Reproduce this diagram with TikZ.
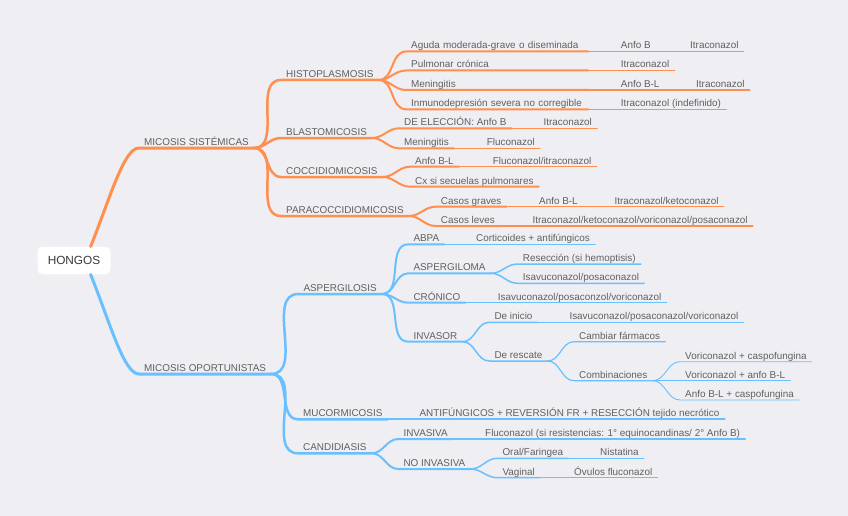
\documentclass[tikz,border=0pt]{standalone}
\usepackage{fontspec}
\setmainfont{Liberation Sans}
\definecolor{fondo}{RGB}{239, 238, 243}
\definecolor{naranja}{RGB}{255, 143, 78}
\definecolor{azul}{RGB}{104, 192, 255}
\definecolor{texto}{RGB}{96, 96, 96}
\usepackage{tikz}

\begin{document}
\begin{tikzpicture}[x=1pt, y=-1pt,
  raiz/.style={rectangle, rounded corners=5pt, fill=white,
               minimum width=73pt, minimum height=27.5pt,
               font=\fontsize{11.8}{13}\selectfont, text=black!78},
  et/.style={anchor=south west, inner xsep=5pt, inner ysep=1pt,
             text height=7pt, text depth=1.5pt,
             font=\fontsize{9.9}{11}\selectfont, text=texto},
  col/.style={text width=172pt, align=left},
  sis/.style={draw=naranja, line width=#1, line cap=round, line join=round},
  opo/.style={draw=azul, line width=#1, line cap=round, line join=round},
]
% Fondo
\fill[fondo] (0,0) rectangle (848,516);

% Raiz
\node[raiz] (hongos) at (74,260.5) {HONGOS};

% Nivel 1
\node[et] (sistem) at (139,148) {MICOSIS SISTÉMICAS};
\node[et] (oport) at (139,374) {MICOSIS OPORTUNISTAS};

% Micosis sistemicas
\node[et] (histo) at (281,80) {HISTOPLASMOSIS};
\node[et] (blasto) at (281,138) {BLASTOMICOSIS};
\node[et] (cocci) at (281,177) {COCCIDIOMICOSIS};
\node[et] (para) at (281,216) {PARACOCCIDIOMICOSIS};

\node[et,col] (aguda) at (406,51.5) {Aguda moderada-grave o diseminada};
\node[et,col] (pulmo) at (406,70.5) {Pulmonar crónica};
\node[et,col] (menh) at (406,90) {Meningitis};
\node[et,col] (inmuno) at (406,109.3) {Inmunodepresión severa no corregible};
\node[et] (anfob) at (615.7,51.5) {Anfo B};
\node[et] (itraa) at (685,51.5) {Itraconazol};
\node[et] (itrab) at (615.7,70.5) {Itraconazol};
\node[et] (anfobla) at (615.7,90) {Anfo B-L};
\node[et] (itrac) at (691,90) {Itraconazol};
\node[et] (itraind) at (615.7,109.3) {Itraconazol (indefinido)};

\node[et] (eleccion) at (399,128.3) {DE ELECCIÓN: Anfo B};
\node[et] (itrad) at (538.3,128.3) {Itraconazol};
\node[et] (menb) at (399,148.3) {Meningitis};
\node[et] (flucoa) at (481.7,148.3) {Fluconazol};

\node[et] (anfoblb) at (410,166.7) {Anfo B-L};
\node[et] (flucoitra) at (487.7,166.7) {Fluconazol/itraconazol};
\node[et] (cx) at (410,186.7) {Cx si secuelas pulmonares};

\node[et] (graves) at (435.7,206.7) {Casos graves};
\node[et] (anfoblc) at (534,206.7) {Anfo B-L};
\node[et] (itraketo) at (609.3,206.7) {Itraconazol/ketoconazol};
\node[et] (leves) at (435.7,226) {Casos leves};
\node[et] (itratodos) at (527.3,226)
  {Itraconazol/ketoconazol/voriconazol/posaconazol};

% Micosis oportunistas
\node[et] (asper) at (298.3,294) {ASPERGILOSIS};
\node[et] (mucor) at (298,419.3) {MUCORMICOSIS};
\node[et] (candi) at (298,453.3) {CANDIDIASIS};

\node[et] (abpa) at (408.3,244.3) {ABPA};
\node[et] (cortic) at (471,244.3) {Corticoides + antifúngicos};
\node[et] (aspergiloma) at (408.3,273.3) {ASPERGILOMA};
\node[et] (reseccion) at (517.7,264) {Resección (si hemoptisis)};
\node[et] (isapos) at (517.7,283.3) {Isavuconazol/posaconazol};
\node[et] (cronico) at (408.3,302.7) {CRÓNICO};
\node[et] (isavora) at (492.7,302.7) {Isavuconazol/posaconzol/voriconazol};
\node[et] (invasor) at (408.3,341.7) {INVASOR};
\node[et] (inicio) at (489.3,322.3) {De inicio};
\node[et] (isavorb) at (564.3,322.3) {Isavuconazol/posaconazol/voriconazol};
\node[et] (rescate) at (489.3,361) {De rescate};
\node[et] (cambiar) at (574,341.7) {Cambiar fármacos};
\node[et] (combi) at (574,380.7) {Combinaciones};
\node[et] (vorcas) at (680,361.7) {Voriconazol + caspofungina};
\node[et] (voranf) at (680,380.7) {Voriconazol + anfo B-L};
\node[et] (anfcas) at (680,400) {Anfo B-L + caspofungina};

\node[et] (antif) at (414.3,419.3)
  {ANTIFÚNGICOS + REVERSIÓN FR + RESECCIÓN tejido necrótico};

\node[et] (invasiva) at (398.3,439) {INVASIVA};
\node[et] (flucores) at (480,439)
  {Fluconazol (si resistencias: 1° equinocandinas/ 2° Anfo B)};
\node[et] (noinv) at (398.3,469) {NO INVASIVA};
\node[et] (oral) at (497.3,458.3) {Oral/Faringea};
\node[et] (nista) at (595,458.3) {Nistatina};
\node[et] (vaginal) at (497.3,477.7) {Vaginal};
\node[et] (ovulos) at (569,477.7) {Óvulos fluconazol};

% Ramas naranja
\draw[sis=3pt] (hongos.40) .. controls +(20,-50) and +(-15,0) .. (sistem.south west)
  -- (sistem.south east);
\foreach \h in {histo,blasto,cocci,para}
  \draw[sis=2.5pt] (sistem.south east) to[out=0,in=180] (\h.south west) -- (\h.south east);
\foreach \h in {aguda,pulmo,menh,inmuno}
  \draw[sis=2pt] (histo.south east) to[out=0,in=180] (\h.south west) -- (\h.south east);
\foreach \h in {eleccion,menb}
  \draw[sis=2pt] (blasto.south east) to[out=0,in=180] (\h.south west) -- (\h.south east);
\foreach \h in {anfoblb,cx}
  \draw[sis=2pt] (cocci.south east) to[out=0,in=180] (\h.south west) -- (\h.south east);
\foreach \h in {graves,leves}
  \draw[sis=2pt] (para.south east) to[out=0,in=180] (\h.south west) -- (\h.south east);
\draw[sis=1.5pt] (aguda.south east) -- (anfob.south west) -- (anfob.south east);
\draw[sis=1.2pt] (anfob.south east) -- (itraa.south west) -- (itraa.south east);
\draw[sis=1.5pt] (pulmo.south east) -- (itrab.south west) -- (itrab.south east);
\draw[sis=1.5pt] (menh.south east) -- (anfobla.south west) -- (anfobla.south east);
\draw[sis=1.2pt] (anfobla.south east) -- (itrac.south west) -- (itrac.south east);
\draw[sis=1.5pt] (inmuno.south east) -- (itraind.south west) -- (itraind.south east);
\draw[sis=1.5pt] (eleccion.south east) -- (itrad.south west) -- (itrad.south east);
\draw[sis=1.5pt] (menb.south east) -- (flucoa.south west) -- (flucoa.south east);
\draw[sis=1.5pt] (anfoblb.south east) -- (flucoitra.south west) -- (flucoitra.south east);
\draw[sis=1.5pt] (graves.south east) -- (anfoblc.south west) -- (anfoblc.south east);
\draw[sis=1.2pt] (anfoblc.south east) -- (itraketo.south west) -- (itraketo.south east);
\draw[sis=1.5pt] (leves.south east) -- (itratodos.south west) -- (itratodos.south east);

% Ramas azules
\draw[opo=3pt] (hongos.-40) .. controls +(20,50) and +(-15,0) .. (oport.south west)
  -- (oport.south east);
\foreach \h in {asper,mucor,candi}
  \draw[opo=2.5pt] (oport.south east) to[out=0,in=180] (\h.south west) -- (\h.south east);
\foreach \h in {abpa,aspergiloma,cronico,invasor}
  \draw[opo=2pt] (asper.south east) to[out=0,in=180] (\h.south west) -- (\h.south east);
\draw[opo=1.5pt] (abpa.south east) -- (cortic.south west) -- (cortic.south east);
\foreach \h in {reseccion,isapos}
  \draw[opo=1.5pt] (aspergiloma.south east) to[out=0,in=180] (\h.south west) -- (\h.south east);
\draw[opo=1.5pt] (cronico.south east) -- (isavora.south west) -- (isavora.south east);
\foreach \h in {inicio,rescate}
  \draw[opo=1.5pt] (invasor.south east) to[out=0,in=180] (\h.south west) -- (\h.south east);
\draw[opo=1.2pt] (inicio.south east) -- (isavorb.south west) -- (isavorb.south east);
\foreach \h in {cambiar,combi}
  \draw[opo=1.2pt] (rescate.south east) to[out=0,in=180] (\h.south west) -- (\h.south east);
\foreach \h in {vorcas,voranf,anfcas}
  \draw[opo=0.9pt] (combi.south east) to[out=0,in=180] (\h.south west) -- (\h.south east);
\draw[opo=2pt] (mucor.south east) -- (antif.south west) -- (antif.south east);
\foreach \h in {invasiva,noinv}
  \draw[opo=2pt] (candi.south east) to[out=0,in=180] (\h.south west) -- (\h.south east);
\draw[opo=1.5pt] (invasiva.south east) -- (flucores.south west) -- (flucores.south east);
\foreach \h in {oral,vaginal}
  \draw[opo=1.5pt] (noinv.south east) to[out=0,in=180] (\h.south west) -- (\h.south east);
\draw[opo=1.2pt] (oral.south east) -- (nista.south west) -- (nista.south east);
\draw[opo=1.2pt] (vaginal.south east) -- (ovulos.south west) -- (ovulos.south east);
\end{tikzpicture}
\end{document}
